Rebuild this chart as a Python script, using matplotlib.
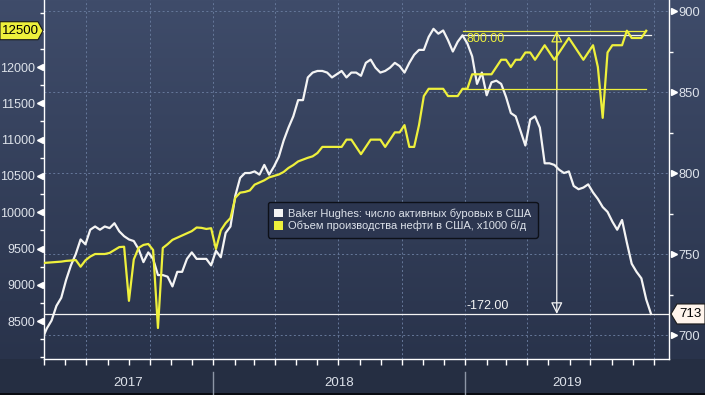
import numpy as np
import pandas as pd
import matplotlib
matplotlib.use("Agg")
import matplotlib.pyplot as plt
import matplotlib.dates as mdates
import matplotlib.transforms as mtransforms
from matplotlib.patches import Patch, Polygon
from matplotlib.ticker import MultipleLocator, NullFormatter

plt.rcParams['font.family'] = ['Liberation Sans', 'DejaVu Sans']

# Baker Hughes oil rig count, weekly (right axis)
rigs = [697, 704, 709, 718, 723, 734, 743, 750, 759, 756,
        765, 767, 765, 767, 766, 769, 764, 761, 759, 758,
        753, 745, 751, 747, 737, 737, 736, 730, 739, 739,
        747, 751, 747, 747, 747, 743, 752, 748, 763, 767,
        786, 797, 800, 800, 801, 799, 805, 799, 804, 810,
        820, 828, 835, 845, 845, 859, 862, 863, 863, 862,
        859, 861, 863, 859, 862, 862, 860, 868, 870, 865,
        862, 863, 865, 868, 866, 862, 868, 873, 876, 876,
        884, 889, 886, 888, 882, 875, 881, 885, 880, 872,
        855, 862, 848, 856, 857, 855, 847, 837, 835, 826,
        817, 833, 835, 828, 806, 806, 805, 802, 800, 801,
        792, 790, 791, 793, 788, 784, 779, 776, 770, 765,
        771, 757, 744, 739, 735, 722, 713]

# US crude oil production, x1000 b/d, weekly (left axis)
oil = [9300, 9305, 9310, 9315, 9320, 9330, 9335, 9342, 9250, 9338,
       9390, 9425, 9425, 9425, 9440, 9480, 9520, 9525, 8780, 9350,
       9510, 9550, 9563, 9480, 8406, 9508, 9560, 9620, 9650, 9680,
       9710, 9740, 9790, 9785, 9770, 9780, 9494, 9750, 9850, 9920,
       10200, 10270, 10280, 10300, 10380, 10410, 10440, 10480, 10500, 10520,
       10555, 10610, 10650, 10700, 10725, 10750, 10770, 10816, 10900, 10900,
       10900, 10900, 10900, 11000, 11000, 10900, 10800, 10900, 11000, 11000,
       11000, 10900, 11000, 11100, 11100, 11200, 10900, 10900, 11200, 11600,
       11700, 11700, 11700, 11700, 11600, 11600, 11600, 11700, 11700, 11900,
       11900, 11900, 11900, 11900, 12000, 12100, 12100, 12000, 12100, 12100,
       12200, 12200, 12100, 12200, 12300, 12200, 12100, 12200, 12300, 12400,
       12300, 12200, 12100, 12200, 12300, 12000, 11300, 12200, 12300, 12300,
       12300, 12500, 12400, 12400, 12400, 12500]

firstDate = "2017-04-28"
rigDates = pd.date_range(firstDate, periods=len(rigs), freq="7D")
oilDates = pd.date_range(firstDate, periods=len(oil), freq="7D")

leftTicks = [8500, 9000, 9500, 10000, 10500, 11000, 11500, 12000]
rightTicks = [700, 750, 800, 850, 900]
years = [2017, 2018, 2019]
legendLabels = ["Baker Hughes: число активных буровых в США",
                "Объем производства нефти в США, x1000 б/д"]
diffStart = 87  # index of the week the measure starts from

WHITE = "#f4f4f4"
YELLOW = "#eef03c"
TXT = "#dde2ea"
GRID = "#66789a"

W, H = 705, 395
fig = plt.figure(figsize=(W / 100, H / 100), dpi=100)

# background gradient
bg = fig.add_axes([0, 0, 1, 1], zorder=0)
plotRows = 359
grad = np.zeros((H, 1, 3))
top = np.array([63, 76, 106]) / 255
bot = np.array([41, 51, 75]) / 255
t = np.linspace(0, 1, plotRows)[:, None]
grad[:plotRows, 0, :] = top * (1 - t) + bot * t
grad[plotRows:, 0, :] = np.array([37, 46, 66]) / 255
grad[-2:, 0, :] = np.array([10, 12, 18]) / 255
bg.imshow(grad, aspect="auto", extent=[0, 1, 0, 1], interpolation="nearest")
bg.axis("off")

ax = fig.add_axes([44 / W, (H - plotRows) / H, 625 / W, plotRows / H], zorder=1)
ax.patch.set_alpha(0)
ax2 = ax.twinx()
ax2.patch.set_alpha(0)

# white series on the right axis
ax.plot(rigDates, rigs, color=WHITE, lw=1.6, zorder=3)
ax.set_xlim(pd.Timestamp("2017-05-01"), pd.Timestamp("2019-10-23"))
ax.set_ylim(685.2, 906.8)
ax.yaxis.tick_right()
ax.set_yticks(rightTicks)
ax.set_yticklabels([str(v) for v in rightTicks])
ax.yaxis.set_minor_locator(MultipleLocator(25))
ax.tick_params(axis="y", which="major", length=0, pad=7, labelsize=9.3, labelcolor=TXT)
ax.tick_params(axis="y", which="minor", length=3, width=1, color="white")
ax.xaxis.set_major_locator(mdates.MonthLocator(bymonth=[1, 4, 7, 10]))
ax.xaxis.set_minor_locator(mdates.MonthLocator())
ax.xaxis.set_major_formatter(NullFormatter())
ax.tick_params(axis="x", which="both", length=4, width=1, color="white", direction="out")
ax.grid(axis="x", which="major", color=GRID, lw=0.7, ls=(0, (2, 2.5)))
ax.grid(axis="y", which="major", color=GRID, lw=0.7, ls=(0, (2, 2.5)))
for s in ["left", "right", "bottom"]:
    ax.spines[s].set_color("white")
    ax.spines[s].set_linewidth(1)
ax.spines["top"].set_visible(False)

# yellow series on the left axis
ax2.plot(oilDates, oil, color=YELLOW, lw=1.6, zorder=3)
ax2.set_ylim(7979, 12923)
ax2.yaxis.tick_left()
ax2.set_yticks(leftTicks)
ax2.set_yticklabels([str(v) for v in leftTicks])
ax2.yaxis.set_minor_locator(MultipleLocator(250))
ax2.tick_params(axis="y", which="major", length=0, pad=6.2, labelsize=9, labelcolor=TXT)
ax2.tick_params(axis="y", which="minor", length=3, width=1, color="white")
for s in ax2.spines.values():
    s.set_visible(False)

# triangle tick markers
tr = mtransforms.blended_transform_factory(ax.transAxes, ax.transData)
ax.plot([1 + 5 / 625] * len(rightTicks), rightTicks, ls="none", marker=">", ms=5,
        color="white", transform=tr, clip_on=False)
tl = mtransforms.blended_transform_factory(ax2.transAxes, ax2.transData)
ax2.plot([-4 / 625] * len(leftTicks), leftTicks, ls="none", marker="<", ms=5,
         color="white", transform=tl, clip_on=False)

# year labels and separators
tx = mtransforms.blended_transform_factory(ax.transData, ax.transAxes)
x0, x1 = ax.get_xlim()
for yr in years:
    lo = max(mdates.date2num(pd.Timestamp(f"{yr}-01-01")), x0)
    hi = min(mdates.date2num(pd.Timestamp(f"{yr + 1}-01-01")), x1)
    ax.text((lo + hi) / 2, -0.067, str(yr), transform=tx, ha="center", va="center",
            color=TXT, fontsize=9.5)
    if yr > years[0]:
        ax.plot([lo, lo], [-0.037, -0.1], transform=tx, color="#8d96a6", lw=1, clip_on=False)

# measure annotations
startD = rigDates[diffStart]
endW = rigDates[-1]
endY = oilDates[-1]
midD = startD + (endW - startD) / 2

ax.plot([startD, endW], [rigs[diffStart]] * 2, color=WHITE, lw=0.9, zorder=4)
ax.axhline(rigs[-1], color=WHITE, lw=0.9, zorder=4)
ax.annotate("", xy=(midD, rigs[-1]), xytext=(midD, rigs[diffStart]),
            arrowprops=dict(arrowstyle="-|>,head_length=0.7,head_width=0.35",
                            ec=WHITE, fc="none", lw=0.9, shrinkA=0, shrinkB=0), zorder=4)
ax.annotate("%.2f" % (rigs[-1] - rigs[diffStart]), xy=(startD, rigs[-1]), xytext=(3, 1.5),
            textcoords="offset points", color=WHITE, fontsize=9, va="bottom")

ax2.plot([startD, endY], [oil[-1]] * 2, color=YELLOW, lw=0.9, zorder=4)
ax2.plot([startD, endY], [oil[diffStart]] * 2, color=YELLOW, lw=0.9, zorder=4)
ax2.annotate("", xy=(midD, oil[-1]), xytext=(midD, oil[diffStart]),
             arrowprops=dict(arrowstyle="-|>,head_length=0.7,head_width=0.35",
                             ec=YELLOW, fc="none", lw=0.9, shrinkA=0, shrinkB=0), zorder=4)
ax2.annotate("%.2f" % (oil[-1] - oil[diffStart]), xy=(startD, oil[-1]), xytext=(3, -2),
             textcoords="offset points", color=YELLOW, fontsize=9, va="top")

# legend
handles = [Patch(facecolor=WHITE, edgecolor="none"), Patch(facecolor=YELLOW, edgecolor="none")]
leg = ax2.legend(handles, legendLabels, loc="upper left", bbox_to_anchor=(0.358, 0.437),
                 frameon=True, facecolor="#2c3650", edgecolor="#0d1018", framealpha=1,
                 fontsize=8, labelcolor=TXT, handlelength=0.8, handleheight=0.8,
                 handletextpad=0.5, borderpad=0.55, labelspacing=0.2, fancybox=True,
                 borderaxespad=0)
leg.set_zorder(10)

# last value tags
ident = mtransforms.IdentityTransform()
yY = ax2.transData.transform((x0, oil[-1]))[1]
fig.add_artist(Polygon([(0, yY - 9), (38, yY - 9), (43, yY), (38, yY + 9), (0, yY + 9)],
                       closed=True, transform=ident, facecolor=YELLOW, edgecolor="#1a1a1a",
                       lw=0.8, zorder=5))
fig.text(20, yY, str(oil[-1]), transform=ident, ha="center", va="center",
         color="black", fontsize=9.5, zorder=6)
yW = ax.transData.transform((x0, rigs[-1]))[1]
fig.add_artist(Polygon([(W, yW - 10), (677, yW - 10), (671, yW), (677, yW + 10), (W, yW + 10)],
                       closed=True, transform=ident, facecolor="#fff4ec", edgecolor="#1a1a1a",
                       lw=0.8, zorder=5))
fig.text(690, yW, str(rigs[-1]), transform=ident, ha="center", va="center",
         color="black", fontsize=9.5, zorder=6)

fig.savefig("out.png", dpi=100)
